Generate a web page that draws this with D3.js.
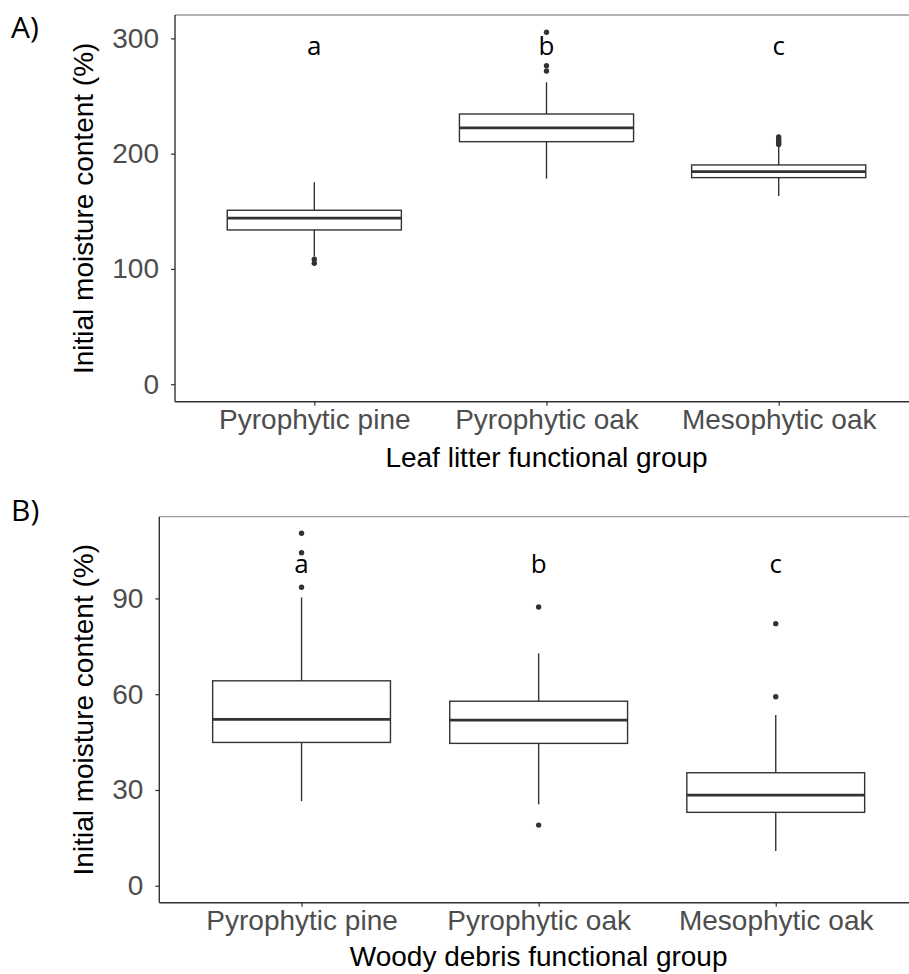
<!DOCTYPE html>
<html>
<head>
<meta charset="utf-8">
<script src="https://cdn.jsdelivr.net/npm/d3@7"></script>
<style>
  body { margin: 0; background: #fff; }
  .tick text { font-family: "Liberation Sans", Arial, sans-serif; fill: #4d4d4d; }
  .domain { stroke: #333; stroke-width: 1.4px; }
  .tick line { stroke: #333; stroke-width: 1.2px; }
</style>
</head>
<body>
<div id="chart"></div>
<script>
// categories shared by both panels
const groups = ["Pyrophytic pine", "Pyrophytic oak", "Mesophytic oak"];

// A) leaf litter (five-number summaries read off the boxes)
const leafLow      = [110.9, 178.3, 163.3];
const leafQ1       = [133.8, 210.4, 179.2];
const leafMedian   = [144.0, 222.3, 184.4];
const leafQ3       = [150.9, 234.4, 190.2];
const leafHigh     = [175.2, 261.9, 207.0];
const leafOutliers = [[108.4, 104.9], [305.3, 276.3, 271.7], [208.0, 209.5, 211.0, 212.5, 214.5]];
const leafLetters  = ["a", "b", "c"];
const leafTicks    = [0, 100, 200, 300];

// B) woody debris
const woodLow      = [26.5, 25.5, 10.9];
const woodQ1       = [44.9, 44.6, 23.0];
const woodMedian   = [52.1, 51.9, 28.4];
const woodQ3       = [64.2, 57.8, 35.4];
const woodHigh     = [90.3, 72.8, 53.5];
const woodOutliers = [[110.4, 104.3, 93.5], [87.3, 19.0], [82.1, 59.2]];
const woodLetters  = ["a", "b", "c"];
const woodTicks    = [0, 30, 60, 90];

const W = 909, H = 974;
const svg = d3.select("#chart").append("svg")
    .attr("width", W)
    .attr("height", H);

function draw_panel(p) {
    const g = svg.append("g");

    const x = d3.scalePoint()
        .domain(groups)
        .range([p.left, p.right])
        .padding(0.6);
    const y = d3.scaleLinear()
        .domain(p.domain)
        .range([p.bottom, p.top]);
    const bw = x.step() * 0.75;

    const rows = groups.map((k, i) => ({
        key: k, low: p.low[i], q1: p.q1[i], med: p.med[i], q3: p.q3[i],
        high: p.high[i], out: p.out[i], letter: p.letters[i]
    }));

    // top border (grey)
    g.append("line")
        .attr("x1", p.left).attr("x2", p.right + 20)
        .attr("y1", p.top).attr("y2", p.top)
        .attr("stroke", "#9a9a9a").attr("stroke-width", 1.3);

    // axes
    const yAxis = d3.axisLeft(y).tickValues(p.ticks).tickSize(4).tickPadding(12).tickSizeOuter(0);
    const ay = g.append("g")
        .attr("transform", `translate(${p.left},0)`)
        .call(yAxis);
    ay.selectAll("text").attr("font-size", 28);
    ay.select(".domain").attr("d", `M0,${p.top}V${p.bottom}`);

    const xAxis = d3.axisBottom(x).tickSize(4).tickPadding(3).tickSizeOuter(0);
    const ax = g.append("g")
        .attr("transform", `translate(0,${p.bottom})`)
        .call(xAxis);
    ax.selectAll("text").attr("font-size", 28);
    ax.select(".domain").attr("d", `M${p.left},0H${p.right + 20}`);

    // whiskers
    const box = g.selectAll(".box").data(rows).enter().append("g").attr("class", "box");
    box.append("line")
        .attr("x1", d => x(d.key)).attr("x2", d => x(d.key))
        .attr("y1", d => y(d.q3)).attr("y2", d => y(d.high))
        .attr("stroke", "#333").attr("stroke-width", 1.4);
    box.append("line")
        .attr("x1", d => x(d.key)).attr("x2", d => x(d.key))
        .attr("y1", d => y(d.q1)).attr("y2", d => y(d.low))
        .attr("stroke", "#333").attr("stroke-width", 1.4);

    // boxes + medians
    box.append("rect")
        .attr("x", d => x(d.key) - bw / 2)
        .attr("y", d => y(d.q3))
        .attr("width", bw)
        .attr("height", d => y(d.q1) - y(d.q3))
        .attr("fill", "#fff").attr("stroke", "#333").attr("stroke-width", 1.4);
    box.append("line")
        .attr("x1", d => x(d.key) - bw / 2).attr("x2", d => x(d.key) + bw / 2)
        .attr("y1", d => y(d.med)).attr("y2", d => y(d.med))
        .attr("stroke", "#333").attr("stroke-width", 2.8);

    // outliers
    box.selectAll("circle")
        .data(d => d.out.map(v => ({key: d.key, v: v})))
        .enter().append("circle")
        .attr("cx", d => x(d.key))
        .attr("cy", d => y(d.v))
        .attr("r", 2.7)
        .attr("fill", "#333");

    // significance letters
    g.selectAll(".letter").data(rows).enter().append("text")
        .attr("class", "letter")
        .attr("x", d => x(d.key))
        .attr("y", y(p.letterY))
        .attr("text-anchor", "middle")
        .attr("font-family", "'Open Sans', sans-serif")
        .attr("font-size", 26)
        .attr("fill", "#000")
        .text(d => d.letter);

    // titles
    g.append("text")
        .attr("transform", `translate(${p.ytitleX},${(p.top + p.bottom) / 2}) rotate(-90)`)
        .attr("text-anchor", "middle")
        .attr("font-family", "'Liberation Sans', Arial, sans-serif")
        .attr("font-size", 28)
        .text("Initial moisture content (%)");
    g.append("text")
        .attr("x", (p.left + p.right) / 2)
        .attr("y", p.xtitleY)
        .attr("text-anchor", "middle")
        .attr("font-family", "'Liberation Sans', Arial, sans-serif")
        .attr("font-size", 28)
        .text(p.xtitle);

    g.append("text")
        .attr("x", 11)
        .attr("y", p.tagY)
        .attr("font-family", "'Open Sans', sans-serif")
        .attr("font-size", 30)
        .text(p.tag);
}

draw_panel({
    left: 175, right: 918, top: 15, bottom: 401.7,
    domain: [-15.2, 320.3], ticks: leafTicks,
    low: leafLow, q1: leafQ1, med: leafMedian, q3: leafQ3, high: leafHigh,
    out: leafOutliers, letters: leafLetters, letterY: 285.5,
    ytitleX: 93, xtitleY: 467, xtitle: "Leaf litter functional group",
    tag: "A)", tagY: 38
});

draw_panel({
    left: 159.3, right: 918, top: 516.7, bottom: 902.7,
    domain: [-5.3, 115.6], ticks: woodTicks,
    low: woodLow, q1: woodQ1, med: woodMedian, q3: woodQ3, high: woodHigh,
    out: woodOutliers, letters: woodLetters, letterY: 98,
    ytitleX: 93, xtitleY: 966, xtitle: "Woody debris functional group",
    tag: "B)", tagY: 521
});
</script>
</body>
</html>
